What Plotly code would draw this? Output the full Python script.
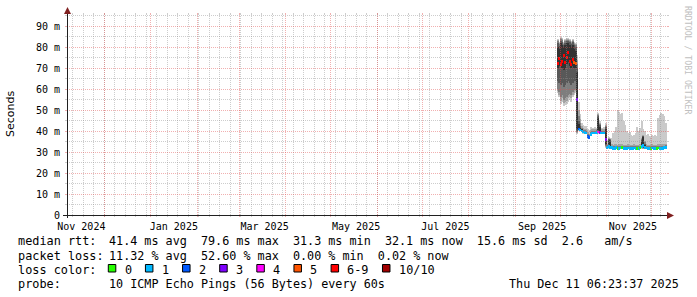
import math
import plotly.graph_objects as go
import pandas as pd

# ---------------- time window (400 day SmokePing view) ----------------
window_start = "2024-11-06 06:23:37"
window_end = "2025-12-11 06:23:37"
first_day = "2025-09-29"          # first day with data

xtick_text = ["Nov 2024", "Jan 2025", "Mar 2025", "May 2025", "Jul 2025", "Sep 2025", "Nov 2025"]
xtick_dates = ["2024-11-15 20:00", "2025-01-16 12:00", "2025-03-18", "2025-05-18",
               "2025-07-16 12:00", "2025-09-19", "2025-11-18 12:00"]

ytick_vals = [0, 10, 20, 30, 40, 50, 60, 70, 80, 90]
ytick_text = ["0", "10 m", "20 m", "30 m", "40 m", "50 m", "60 m", "70 m", "80 m", "90 m"]
yminor_vals = [5, 15, 25, 35, 45, 55, 65, 75, 85, 95]
y_top = 95.24

# ---------------- data: daily median rtt (ms) and lost pings of 10 ----------------
median = [72.0, 74.5, 71.5, 73.0, 76.0, 72.5, 75.0, 77.5, 73.0, 71.5, 74.0, 72.5, 72.0,
          55.0,
          41.0, 40.5, 40.0, 39.5, 39.2, 39.0, 37.5, 37.0, 38.5, 39.0, 39.0, 39.0, 39.2, 39.5, 39.3, 39.0, 39.0, 39.0,
          36.0,
          32.3, 32.5, 32.2, 32.0, 31.8, 31.8, 32.0, 31.7, 31.8, 31.9, 32.0, 31.8, 31.7, 31.8, 31.9,
          31.8, 31.7, 31.8, 31.9, 31.8, 31.7, 31.8, 32.0, 32.5, 33.0, 32.2, 31.9, 31.8, 31.7, 31.8,
          31.9, 31.8, 31.7, 31.8, 31.9, 31.8, 31.7, 31.8, 32.0, 32.1]

loss = [7, 7, 8, 7, 6, 7, 7, 8, 7, 6, 7, 5, 5,
        3,
        2, 1, 1, 1, 1, 1, 2, 2, 1, 1, 1, 1, 1, 4, 3, 1, 1, 1,
        3,
        1, 1, 1, 1, 1, 1, 1, 0, 1, 1, 0, 1, 1, 1, 1, 1, 1, 1, 1, 1, 0, 1, 0, 1, 1, 1, 1, 1, 1, 0,
        1, 1, 1, 0, 0, 1, 1, 1, 1, 1]

# sorted ping rtts (ms), ping1 = fastest ... ping10 = slowest
ping1 = [58, 56, 53, 54, 52, 52.5, 53, 54, 55, 54, 56, 57, 58,
         38.5,
         40, 39.8, 39.3, 38.8, 38.6, 38.4, 36.8, 36.4, 37.9, 38.4, 38.4, 38.4, 38.6, 38.8, 38.6, 38.4, 38.4, 38.4,
         32.0,
         31.7, 31.9, 31.6, 31.4, 31.2, 31.2, 31.4, 31.1, 31.2, 31.3, 31.4, 31.2, 31.1, 31.2, 31.3,
         31.2, 31.1, 31.2, 31.3, 31.2, 31.1, 31.2, 31.4, 31.6, 31.3, 31.5, 31.3, 31.2, 31.1, 31.2,
         31.3, 31.2, 31.1, 31.2, 31.3, 31.2, 31.1, 31.2, 31.4, 31.5]
ping2 = [59, 57, 54.5, 55.5, 53.5, 54, 54.5, 55.5, 56, 55.5, 57, 58, 59,
         39.0,
         40.3, 40, 39.5, 39, 38.8, 38.6, 37, 36.6, 38.1, 38.6, 38.6, 38.6, 38.8, 39, 38.9, 38.6, 38.6, 38.6,
         32.5,
         31.9, 32.1, 31.8, 31.6, 31.4, 31.4, 31.6, 31.3, 31.4, 31.5, 31.6, 31.4, 31.3, 31.4, 31.5,
         31.4, 31.3, 31.4, 31.5, 31.4, 31.3, 31.4, 31.6, 31.8, 31.5, 31.7, 31.5, 31.4, 31.3, 31.4,
         31.5, 31.4, 31.3, 31.4, 31.5, 31.4, 31.3, 31.4, 31.6, 31.7]
ping3 = [60, 58.5, 56, 57, 55, 55.5, 56, 57, 57.5, 57, 58.5, 59.5, 60,
         39.5,
         40.6, 40.2, 39.7, 39.2, 39, 38.8, 37.2, 36.8, 38.3, 38.8, 38.8, 38.8, 39, 39.3, 39.1, 38.8, 38.8, 38.8,
         33.0,
         32.1, 32.3, 32.0, 31.8, 31.6, 31.6, 31.8, 31.5, 31.6, 31.7, 31.8, 31.6, 31.5, 31.6, 31.7,
         31.6, 31.5, 31.6, 31.7, 31.6, 31.5, 31.6, 31.8, 32.0, 31.7, 31.9, 31.7, 31.6, 31.5, 31.6,
         31.7, 31.6, 31.5, 31.6, 31.7, 31.6, 31.5, 31.6, 31.8, 31.9]
ping4 = [64, 63, 62, 63, 61, 62, 63, 64, 63, 62, 63, 64, 64,
         40.0,
         41, 40.5, 40, 39.5, 39.2, 39, 37.5, 37, 38.5, 39, 39, 39, 39.2, 39.8, 39.4, 39, 39, 39,
         33.5,
         32.3, 32.5, 32.2, 32.0, 31.8, 31.8, 32.0, 31.7, 31.8, 31.9, 32.0, 31.8, 31.7, 31.8, 31.9,
         31.8, 31.7, 31.8, 31.9, 31.8, 31.7, 31.8, 32.0, 32.2, 31.9, 32.1, 31.9, 31.8, 31.7, 31.8,
         31.9, 31.8, 31.7, 31.8, 31.9, 31.8, 31.7, 31.8, 32.0, 32.1]
ping5 = [70, 71, 71, 70, 69, 70, 72, 73, 71, 70, 71, 70, 70,
         41.0,
         41.4, 40.9, 40.3, 39.7, 39.4, 39.2, 37.7, 37.2, 38.7, 39.2, 39.2, 39.2, 39.4, 40.5, 39.8, 39.2, 39.2, 39.2,
         34.0,
         32.5, 32.8, 32.4, 32.2, 32.0, 32.0, 32.2, 31.9, 32.0, 32.1, 32.2, 32.0, 31.9, 32.0, 32.1,
         32.0, 31.9, 32.0, 32.1, 32.0, 31.9, 32.0, 32.2, 32.5, 32.2, 32.4, 32.1, 32.0, 31.9, 32.0,
         32.1, 32.0, 31.9, 32.0, 32.1, 32.0, 31.9, 32.0, 32.2, 32.3]
ping6 = [80, 79, 82, 81, 80, 81, 82, 82, 81, 80, 81, 79, 78,
         68.0,
         43.5, 41.6, 40.6, 39.9, 39.6, 39.4, 37.9, 37.4, 38.9, 39.4, 39.4, 39.4, 39.6, 46, 42, 39.4, 39.4, 39.4,
         41.0,
         32.7, 35.5, 35.0, 32.4, 32.2, 32.2, 32.4, 32.1, 32.2, 32.3, 32.4, 32.2, 32.1, 32.2, 32.3,
         32.2, 32.1, 32.2, 32.3, 32.2, 32.1, 32.2, 32.4, 35.0, 37.0, 33.5, 32.3, 32.2, 32.1, 32.2,
         32.3, 32.2, 32.1, 32.2, 32.3, 32.2, 32.1, 32.2, 32.4, 32.5]
ping7 = [82, 80.5, 83, 82.5, 81, 82, 83, 83, 82.5, 81.5, 82.5, 81, 80,
         70.0,
         45, 42.6, 41, 40.2, 39.9, 39.7, 38.2, 37.7, 39.2, 39.7, 39.7, 39.7, 39.9, 47, 43, 39.7, 39.7, 39.7,
         42.0,
         32.9, 36.0, 35.5, 32.6, 32.4, 32.4, 32.6, 32.3, 32.4, 32.5, 32.6, 32.4, 32.3, 32.4, 32.5,
         32.4, 32.3, 32.4, 32.5, 32.4, 32.3, 32.4, 32.6, 35.6, 37.4, 34.0, 32.5, 32.4, 32.3, 32.4,
         32.5, 32.4, 32.3, 32.4, 32.5, 32.4, 32.3, 32.4, 32.6, 32.7]
ping8 = [83, 81.5, 83.8, 83.2, 81.5, 82.8, 83.5, 83.5, 83, 82, 83, 81.5, 81,
         72.0,
         47, 43.6, 41.5, 40.6, 40.3, 40.1, 38.6, 38.1, 39.6, 40.1, 40.1, 40.1, 40.3, 47.5, 43.5, 40.1, 40.1, 40.1,
         42.5,
         33.2, 36.4, 36.0, 33.0, 32.8, 32.8, 33.0, 32.7, 32.8, 32.9, 33.0, 32.8, 32.7, 32.8, 32.9,
         32.8, 32.7, 32.8, 32.9, 32.8, 32.7, 32.8, 33.0, 36.2, 37.8, 34.6, 32.9, 32.8, 32.7, 32.8,
         32.9, 32.8, 32.7, 32.8, 32.9, 32.8, 32.7, 32.8, 33.0, 33.1]
ping9 = [83.5, 82, 84.3, 83.7, 82, 83.2, 84, 84, 83.5, 82.5, 83.5, 82, 81.5,
         74.0,
         50, 45.5, 42.5, 41.3, 41, 40.8, 39.3, 38.8, 40.3, 40.8, 40.8, 40.8, 41, 48, 44, 40.8, 40.8, 40.8,
         43.0,
         33.8, 36.8, 36.4, 33.6, 33.5, 33.6, 33.9, 33.5, 33.6, 33.6, 33.7, 33.5, 33.4, 33.5, 33.6,
         33.5, 33.4, 33.5, 33.6, 33.5, 33.4, 33.5, 33.8, 36.6, 38.2, 35.1, 33.6, 33.5, 33.4, 33.5,
         33.6, 33.5, 33.4, 33.5, 33.8, 33.7, 33.6, 33.7, 33.9, 33.8]
ping10 = [84, 82.5, 85, 84.2, 82.5, 83.8, 84.5, 84.5, 84, 83, 84, 82.5, 82,
          76.0,
          54, 48, 44, 43, 42.5, 42.5, 41, 40.5, 42, 41.5, 41.5, 41.8, 41.5, 48.5, 45, 41.5, 41.3, 41.8,
          44.0,
          35.5, 37.2, 36.8, 36.5, 39, 40, 42, 50, 49, 48, 48.5, 45, 43, 40, 39,
          39.5, 38, 37.5, 38, 39, 42, 40, 41.5, 45, 41, 40, 38, 38.5, 37.5, 37,
          38, 37.5, 38, 37.5, 46, 47.5, 48.5, 48, 47, 44]

# legend / statistics
loss_labels = ["0", "1", "2", "3", "4", "5", "6-9", "10/10"]
loss_colors = ["#26ff00", "#00b8ff", "#0059ff", "#7e00ff", "#ff00ff", "#ff5500", "#ff0000", "#a10000"]
rtt_stat_names = ["avg", "max", "min", "now", "sd"]
rtt_stat_values = [41.4, 79.6, 31.3, 32.1, 15.6]
rtt_am_s = 2.6
loss_stat_names = ["avg", "max", "min", "now"]
loss_stat_values = [11.32, 52.60, 0.00, 0.02]
probe_text = "10 ICMP Echo Pings (56 Bytes) every 60s"
stamp_text = "Thu Dec 11 06:23:37 2025"

# ---------------- styling ----------------
SMOKE = ["#cacaca", "#a4a4a4", "#7e7e7e", "#585858", "#323232"]
GRID = "rgba(144,144,144,0.45)"
MGRID = "rgba(224,80,80,0.45)"
ARROW = "#802020"
MONO = "DejaVu Sans Mono"
DAY_MS = 86400000
L, R, T, B = 67, 667, 15, 215          # plot area in pixels
W, H = 697, 297
DOT = "1px,1px"
t0, t1 = pd.Timestamp(window_start), pd.Timestamp(window_end)


def px(x):
    return (x - L) / (R - L)


def py(y):
    return (B - y) / (B - T)


def date_px(d):
    return L + (pd.Timestamp(d) - t0) / (t1 - t0) * (R - L)


def val_px(v):
    return B - v / y_top * (B - T)


def snap(p):
    return math.floor(p) + 0.5


def loss_bucket(n):
    return n if n <= 5 else (6 if n < 10 else 7)


days = pd.date_range(first_day, periods=len(median), freq="D") + pd.Timedelta(hours=12)
month_starts = pd.date_range("2024-12-01", "2025-12-01", freq="MS")
week_lines = pd.date_range("2024-11-10", "2025-12-10", freq="7D")

fig = go.Figure()
lows = [ping1, ping2, ping3, ping4, ping5]
highs = [ping10, ping9, ping8, ping7, ping6]
for lo, hi, col in zip(lows, highs, SMOKE):
    fig.add_trace(go.Bar(x=days, base=lo, y=[h - l for h, l in zip(hi, lo)], width=DAY_MS,
                         marker=dict(color=col, line=dict(width=0)), hoverinfo="skip"))

band = 1.3
fig.add_trace(go.Bar(x=days, base=[m - band / 2 for m in median], y=[band] * len(median), width=DAY_MS,
                     marker=dict(color=[loss_colors[loss_bucket(n)] for n in loss], line=dict(width=0)),
                     hoverinfo="skip"))

shapes = []


def seg(x0, y0, x1, y1, color, dash=None):
    ln = dict(color=color, width=1)
    if dash:
        ln["dash"] = dash
    shapes.append(dict(type="line", xref="paper", yref="paper", x0=px(x0), x1=px(x1),
                       y0=py(y0), y1=py(y1), line=ln, layer="above"))


# rrdtool grid: dotted lines over the graph, plus 2px solid ticks outside the frame
for lines, col in ((week_lines, GRID), (month_starts, MGRID)):
    for d in lines:
        x = snap(date_px(d))
        if L < x < R:
            seg(x, B, x, T, col, DOT)
            seg(x, B, x, B + 2, col)
            seg(x, T - 2, x, T, col)
for vals, col in ((yminor_vals, GRID), (ytick_vals[1:], MGRID)):
    for v in vals:
        y = snap(val_px(v))
        seg(L, y, R, y, col, DOT)
        seg(L - 2, y, L, y, col)
        seg(R, y, R + 2, y, col)

# axes with arrows
seg(63, B + 0.5, 669, B + 0.5, "#202020")
seg(L + 0.5, 218, L + 0.5, 11, "#202020")
shapes.append(dict(type="path", xref="paper", yref="paper",
                   path=f"M {px(667)} {py(212)} L {px(674)} {py(215.5)} L {px(667)} {py(219)} Z",
                   fillcolor=ARROW, line=dict(width=0)))
shapes.append(dict(type="path", xref="paper", yref="paper",
                   path=f"M {px(64)} {py(14)} L {px(67.5)} {py(7)} L {px(71)} {py(14)} Z",
                   fillcolor=ARROW, line=dict(width=0)))

annotations = []


def text(x, y, s, anchor="left", size=11.85, color="#000000", family=MONO, angle=0):
    annotations.append(dict(x=px(x), y=py(y), xref="paper", yref="paper", text=s, showarrow=False,
                            xanchor=anchor, yanchor="middle", textangle=angle,
                            font=dict(family=family, size=size, color=color)))


text(10, 114, "Seconds", anchor="center", size=11, family="DejaVu Sans", angle=-90)
text(688, 60, "RRDTOOL / TOBI OETIKER", anchor="center", size=8.2, color="#c0c0c0", angle=90)

rows_y = [241, 255.5, 269.5, 283.5]
text(16, rows_y[0], "median rtt:")
text(16, rows_y[1], "packet loss:")
text(16, rows_y[2], "loss color:")
text(16, rows_y[3], "probe:")
rtt_line = "  ".join(f"{v:.1f} ms {n}" for v, n in zip(rtt_stat_values, rtt_stat_names)) + f"  {rtt_am_s:.1f}   am/s"
loss_line = "  ".join(f"{v:.2f} % {n}" for v, n in zip(loss_stat_values, loss_stat_names))
text(107.3, rows_y[0], rtt_line, size=11.75)
text(107.3, rows_y[1], loss_line, size=11.75)
text(107.3, rows_y[3], probe_text, size=11.75)
text(681, rows_y[3], stamp_text, anchor="right", size=11.75)

cw = 7.13
bx = 108.3
for lab, col in zip(loss_labels, loss_colors):
    shapes.append(dict(type="rect", xref="paper", yref="paper", x0=px(bx), x1=px(bx + 7.5),
                       y0=py(272), y1=py(264.5), fillcolor=col, line=dict(color="#000000", width=1)))
    text(bx + 14.4, rows_y[2], lab)
    bx += 14.4 + len(lab) * cw + 15.6

axis_font = dict(family=MONO, size=10, color="#000000")
fig.update_layout(
    width=W, height=H, margin=dict(l=L, r=W - R, t=T, b=H - B),
    paper_bgcolor="white", plot_bgcolor="white", barmode="overlay", bargap=0, showlegend=False,
    xaxis=dict(type="date", range=[window_start, window_end], tickmode="array", tickvals=xtick_dates,
               ticktext=xtick_text, ticks="", showgrid=False, zeroline=False, showline=False,
               tickfont=axis_font, ticklabelstandoff=4),
    yaxis=dict(range=[0, y_top], tickmode="array", tickvals=ytick_vals, ticktext=ytick_text,
               showgrid=False, zeroline=False, showline=False, ticks="", tickfont=axis_font,
               ticklabelstandoff=6),
    shapes=shapes, annotations=annotations,
)

fig.write_html("out.html")
